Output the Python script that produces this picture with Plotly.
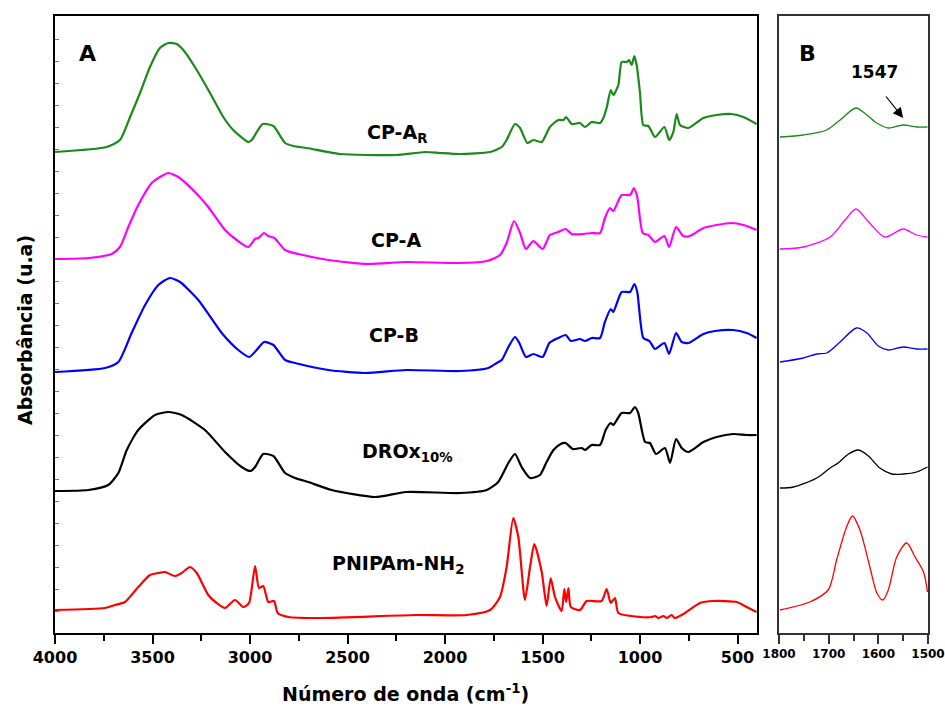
import plotly.graph_objects as go
from plotly.subplots import make_subplots

# ---------------- Panel A data (wavenumber cm-1, stacked absorbance a.u.) ----------------
wn_cpar = [4000, 3735, 3667, 3615, 3564, 3513, 3462, 3419, 3376, 3342, 3273, 3205, 3137, 3086, 3009, 2991, 2935, 2880, 2820, 2778,
           2709, 2538, 2400, 2250, 2100, 2026, 1923, 1769, 1709, 1684, 1641, 1615, 1578, 1547, 1504, 1462, 1419, 1393, 1379, 1350,
           1308, 1282, 1248, 1205, 1188, 1170, 1150, 1137, 1111, 1094, 1068, 1056, 1043, 1029, 1017, 1000, 983, 957, 923, 875,
           850, 829, 812, 795, 752, 675, 607, 530, 470, 402]
abs_cpar = [481, 486, 493, 516, 540, 566, 585, 590, 589, 583, 563, 540, 516, 503, 491, 493, 509, 507, 490, 487,
            485, 479, 478, 478, 481, 480, 479, 481, 486, 493, 509, 505, 490, 493, 491, 506, 513, 513, 516, 509,
            510, 506, 511, 510, 515, 526, 543, 538, 548, 571, 571, 573, 568, 577, 568, 540, 508, 507, 496, 506,
            493, 501, 519, 508, 505, 515, 518, 519, 516, 509]

wn_cpa = [4000, 3829, 3709, 3667, 3624, 3573, 3504, 3453, 3419, 3368, 3282, 3214, 3128, 3068, 3009, 2974, 2957, 2928, 2906, 2875,
          2820, 2752, 2598, 2393, 2200, 1923, 1786, 1718, 1684, 1646, 1615, 1585, 1547, 1499, 1462, 1419, 1381, 1350, 1291, 1248,
          1205, 1180, 1154, 1137, 1094, 1051, 1031, 1014, 986, 957, 923, 875, 851, 815, 778, 744, 675, 607, 530, 470, 402]
abs_cpa = [374, 375, 379, 386, 406, 428, 450, 457, 460, 456, 441, 426, 403, 393, 386, 394, 395, 400, 397, 395,
           383, 379, 373, 369, 371, 370, 372, 378, 390, 412, 400, 384, 392, 384, 398, 401, 404, 399, 399, 400,
           400, 415, 425, 422, 438, 438, 445, 436, 400, 398, 391, 397, 386, 406, 397, 397, 405, 408, 410, 408, 403]

wn_cpb = [4000, 3744, 3675, 3607, 3538, 3470, 3410, 3359, 3265, 3145, 3060, 3004, 2966, 2928, 2880, 2820, 2769, 2598, 2410, 2200,
          1923, 1778, 1735, 1709, 1675, 1641, 1619, 1585, 1547, 1499, 1465, 1419, 1381, 1355, 1308, 1282, 1248, 1205, 1180, 1150,
          1137, 1094, 1051, 1029, 1014, 983, 952, 923, 875, 851, 815, 786, 752, 675, 615, 522, 453, 402]
abs_cpb = [261, 265, 271, 300, 328, 348, 355, 351, 333, 300, 283, 276, 283, 291, 288, 273, 270, 263, 260, 263,
           262, 265, 270, 273, 286, 296, 290, 276, 279, 276, 290, 295, 298, 292, 294, 292, 295, 295, 311, 324,
           321, 341, 341, 349, 341, 295, 292, 284, 290, 279, 300, 291, 290, 299, 302, 303, 300, 295]

wn_drox = [4000, 3829, 3727, 3675, 3632, 3573, 3487, 3419, 3350, 3231, 3128, 3043, 2997, 2974, 2932, 2880, 2820, 2769, 2701, 2581,
           2359, 2200, 1923, 1786, 1727, 1675, 1641, 1607, 1564, 1513, 1479, 1444, 1407, 1381, 1345, 1299, 1282, 1248, 1205, 1176,
           1150, 1137, 1094, 1051, 1026, 1009, 974, 949, 918, 872, 846, 815, 786, 752, 675, 607, 522, 453, 402]
abs_drox = [142, 143, 148, 160, 183, 203, 218, 221, 218, 203, 181, 166, 162, 166, 179, 177, 160, 155, 151, 143,
            136, 141, 140, 143, 151, 170, 179, 166, 155, 158, 171, 183, 189, 190, 184, 185, 183, 188, 188, 203,
            210, 208, 220, 220, 226, 220, 191, 190, 179, 185, 170, 194, 185, 181, 191, 196, 199, 198, 198]

wn_pnipam = [4000, 3744, 3692, 3641, 3573, 3513, 3470, 3436, 3385, 3350, 3308, 3273, 3214, 3171, 3128, 3077, 3034, 3005, 2974, 2954,
             2932, 2906, 2877, 2858, 2803, 2632, 2154, 1889, 1769, 1718, 1684, 1650, 1624, 1590, 1564, 1542, 1504, 1479, 1458, 1436,
             1402, 1388, 1379, 1367, 1355, 1308, 1273, 1197, 1171, 1150, 1128, 1111, 1000, 940, 923, 906, 880, 863, 838, 821,
             778, 692, 624, 504, 453, 402]
abs_pnipam = [23, 25, 28, 31, 46, 58, 60, 61, 57, 60, 66, 60, 38, 30, 25, 33, 26, 30, 67, 45,
              47, 31, 32, 20, 16, 15, 18, 18, 23, 36, 66, 115, 96, 33, 66, 89, 61, 27, 55, 36,
              22, 44, 31, 45, 26, 23, 32, 32, 44, 30, 35, 20, 16, 16, 17, 15, 17, 15, 18, 15,
              19, 30, 32, 31, 26, 21]

# ---------------- Panel B data (zoom 1800-1500 cm-1) ----------------
wnB_cpar = [1798, 1751, 1704, 1677, 1645, 1623, 1603, 1580, 1550, 1523, 1501]
absB_cpar = [496, 498, 503, 513, 525, 518, 510, 505, 508, 506, 506]
wnB_cpa = [1798, 1751, 1697, 1667, 1645, 1623, 1587, 1550, 1523, 1501]
absB_cpa = [384, 386, 396, 413, 424, 413, 396, 404, 398, 396]
wnB_cpb = [1798, 1751, 1724, 1704, 1677, 1644, 1623, 1600, 1580, 1550, 1523, 1501]
absB_cpb = [271, 275, 279, 280, 291, 305, 300, 287, 283, 286, 284, 284]
wnB_drox = [1798, 1771, 1724, 1697, 1681, 1660, 1640, 1620, 1597, 1573, 1550, 1523, 1501]
absB_drox = [145, 146, 155, 165, 170, 179, 183, 177, 165, 159, 159, 161, 166]
wnB_pnipam = [1798, 1738, 1701, 1684, 1664, 1652, 1637, 1617, 1603, 1591, 1580, 1563, 1543, 1526, 1509, 1501]
absB_pnipam = [23, 31, 43, 73, 106, 117, 103, 66, 40, 33, 43, 76, 90, 76, 61, 41]

tickA = [4000, 3500, 3000, 2500, 2000, 1500, 1000, 500]
tickB = [1800, 1700, 1600, 1500]

FONT = "DejaVu Sans"
GREEN, MAGENTA, BLUE, BLACK, RED = "#1a8a1a", "#ff00ff", "#0000ff", "#000000", "#ff0000"

fig = make_subplots(rows=1, cols=2, shared_yaxes=False, horizontal_spacing=0.0)

seriesA = [(wn_cpar, abs_cpar, GREEN), (wn_cpa, abs_cpa, MAGENTA), (wn_cpb, abs_cpb, BLUE),
           (wn_drox, abs_drox, BLACK), (wn_pnipam, abs_pnipam, RED)]
seriesB = [(wnB_cpar, absB_cpar, GREEN), (wnB_cpa, absB_cpa, MAGENTA), (wnB_cpb, absB_cpb, BLUE),
           (wnB_drox, absB_drox, BLACK), (wnB_pnipam, absB_pnipam, RED)]

for x, y, c in seriesA:
    fig.add_trace(go.Scatter(x=x, y=y, mode="lines", line=dict(color=c, width=2.2, shape="spline", smoothing=0.6),
                             showlegend=False, hoverinfo="skip"), row=1, col=1)
for x, y, c in seriesB:
    fig.add_trace(go.Scatter(x=x, y=y, mode="lines", line=dict(color=c, width=1.3, shape="spline", smoothing=0.8),
                             showlegend=False, hoverinfo="skip"), row=1, col=2)

W, H = 945, 707
ml, mr, mt, mb = 55, 17, 16, 74
pw = W - ml - mr
ph = H - mt - mb

fig.update_layout(
    width=W, height=H, margin=dict(l=ml, r=mr, t=mt, b=mb, autoexpand=False),
    paper_bgcolor="white", plot_bgcolor="white",
    font=dict(family=FONT, color="black"),
    xaxis=dict(domain=[0, (757 - ml) / pw], range=[4000, 400], tickvals=tickA, automargin=False,
               ticks="outside", ticklen=9, tickwidth=2, tickcolor="black",
               minor=dict(tickvals=[3750, 3250, 2750, 2250, 1750, 1250, 750], ticks="outside", ticklen=6, tickwidth=2, tickcolor="black"),
               tickfont=dict(family=FONT, size=16, weight="bold", color="black"),
               showline=True, linewidth=2, linecolor="black", mirror=True, showgrid=False, zeroline=False),
    yaxis=dict(range=[0, 617], showticklabels=False, ticks="inside", ticklen=4, tickwidth=1, tickcolor="#777",
               dtick=22, tick0=0, automargin=False,
               showline=True, linewidth=2, linecolor="black", mirror=True, showgrid=False, zeroline=False),
    xaxis2=dict(domain=[(779 - ml) / pw, 1], range=[1800, 1500], tickvals=tickB, automargin=False,
                ticks="outside", ticklen=9, tickwidth=1.5, tickcolor="#333",
                minor=dict(tickvals=[1750, 1650, 1550], ticks="outside", ticklen=6, tickwidth=1.5, tickcolor="#333"),
                tickfont=dict(family=FONT, size=12, weight="bold", color="black"),
                showline=True, linewidth=1.5, linecolor="#333", mirror=True, showgrid=False, zeroline=False),
    yaxis2=dict(range=[0, 617], showticklabels=False, ticks="", automargin=False,
                showline=True, linewidth=1.5, linecolor="#333", mirror=True, showgrid=False, zeroline=False),
)

def lab(text, x, y, size, xref="x", yref="y", **kw):
    fig.add_annotation(text=text, x=x, y=y, xref=xref, yref=yref, showarrow=False,
                       xanchor="center", yanchor="middle",
                       font=dict(family=FONT, size=size, weight="bold", color="black"), **kw)

lab("A", 3831, 580, 22)
lab("CP-A<sub>R</sub>", 2245, 500, 19)
lab("CP-A", 2251, 393, 19)
lab("CP-B", 2262, 298, 19)
lab("DROx<sub>10%</sub>", 2190, 181, 19)
lab("PNIPAm-NH<sub>2</sub>", 2241, 69, 19)

lab("B", 1742, 580, 22, xref="x2", yref="y2")
lab("1547", 1607, 561, 17, xref="x2", yref="y2")
fig.add_annotation(x=1550, y=515, ax=1587, ay=538, xref="x2", yref="y2", axref="x2", ayref="y2",
                   showarrow=True, arrowhead=2, arrowsize=1.7, arrowwidth=1.2, arrowcolor="black", text="")

lab("Número de onda (cm<sup>-1</sup>)", (405 - ml) / pw, (633 - 693) / ph, 19, xref="paper", yref="paper")
lab("Absorbância (u.a)", (25 - ml) / pw, (633 - 330) / ph, 19, xref="paper", yref="paper", textangle=-90)

fig.write_html("out.html")
